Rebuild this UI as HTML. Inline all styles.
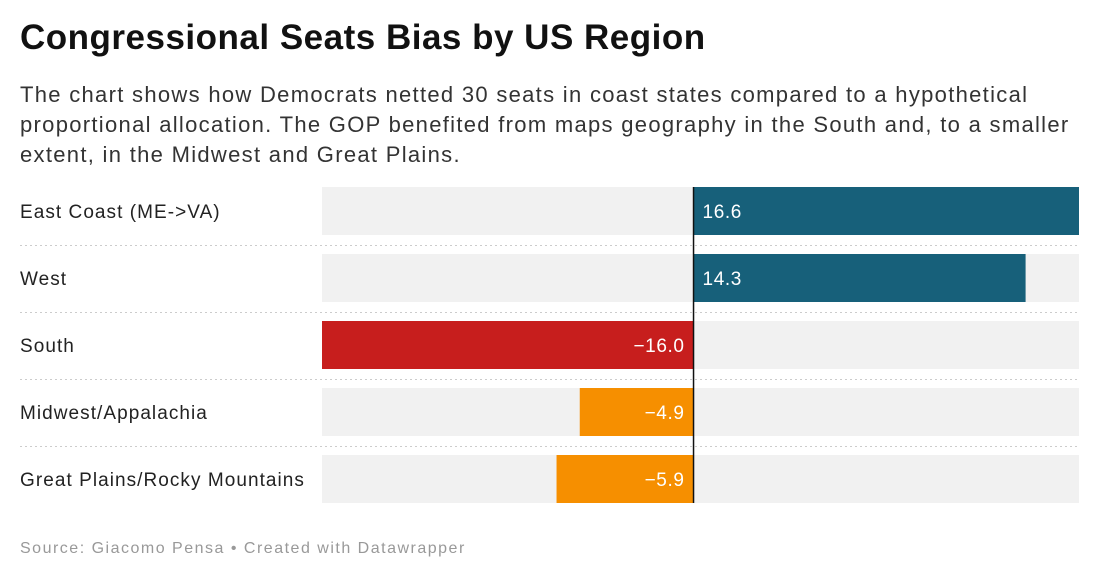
<!DOCTYPE html>
<html><head><meta charset="utf-8"><style>
body{margin:0;width:1100px;height:580px;background:#fff;font-family:"Liberation Sans",sans-serif;overflow:hidden;position:relative}
h1{position:absolute;left:20px;top:18px;margin:0;font-size:35px;font-weight:bold;color:#111;letter-spacing:0.5px;white-space:nowrap}
p.desc{position:absolute;left:20px;top:80px;margin:0;width:1080px;font-size:22px;line-height:30px;color:#333;letter-spacing:1.3px;white-space:nowrap}
.foot{position:absolute;left:20px;top:540px;font-size:16px;color:#999;letter-spacing:1.5px;white-space:nowrap}
</style></head><body>
<h1>Congressional Seats Bias by US Region</h1>
<p class="desc">The chart shows how Democrats netted 30 seats in coast states compared to a hypothetical<br>proportional allocation. The GOP benefited from maps geography in the South and, to a smaller<br>extent, in the Midwest and Great Plains.</p>
<svg id="chart" width="1100" height="580" style="position:absolute;left:0;top:0"></svg>
<div class="foot">Source: Giacomo Pensa • Created with Datawrapper</div>
<script>
const categories=["East Coast (ME->VA)","West","South","Midwest/Appalachia","Great Plains/Rocky Mountains"];
const values=[16.6,14.3,-16.0,-4.9,-5.9];
const colors=["#17607a","#17607a","#c71e1d","#f68f00","#f68f00"];
const svg=document.getElementById('chart');
const NS="http://www.w3.org/2000/svg";
const x0=322,x1=1079,dMin=-16,dMax=16.6;
const xs=v=>x0+(v-dMin)/(dMax-dMin)*(x1-x0);
const top0=187,pitch=67,bh=48;
function mk(t,a){const e=document.createElementNS(NS,t);for(const k in a)e.setAttribute(k,a[k]);svg.appendChild(e);return e;}
categories.forEach((c,i)=>{
  const y=top0+i*pitch;
  const bg=mk('rect',{x:x0,y:y,width:x1-x0,height:bh,fill:'#f1f1f1'});
  
  
  if(i<categories.length-1){
    const l=mk('line',{x1:20,x2:1079,y1:y+bh+10.5,y2:y+bh+10.5,stroke:'#ccc','stroke-dasharray':'2,3'});
    
    
  }
  const lab=mk('text',{x:20,y:y+bh/2+7,'font-size':19,fill:'#222','letter-spacing':1.05});
  lab.textContent=c;
  
  
  const v=values[i],xa=xs(Math.min(0,v)),xb=xs(Math.max(0,v));
  const b=mk('rect',{x:xa,y:y,width:xb-xa,height:bh,fill:colors[i]});
  
  
  const t=mk('text',{x:v>=0?xs(0)+9:xs(0)-9,y:y+bh/2+7,'font-size':19,fill:'#fff','letter-spacing':0.6,'text-anchor':v>=0?'start':'end'});
  t.textContent=(v<0?'\u2212':'')+Math.abs(v).toFixed(1);
  
  
});
const z=mk('line',{x1:xs(0),x2:xs(0),y1:top0,y2:top0+4*pitch+bh,stroke:'#111','stroke-width':1.5});


</script>
</body></html>
